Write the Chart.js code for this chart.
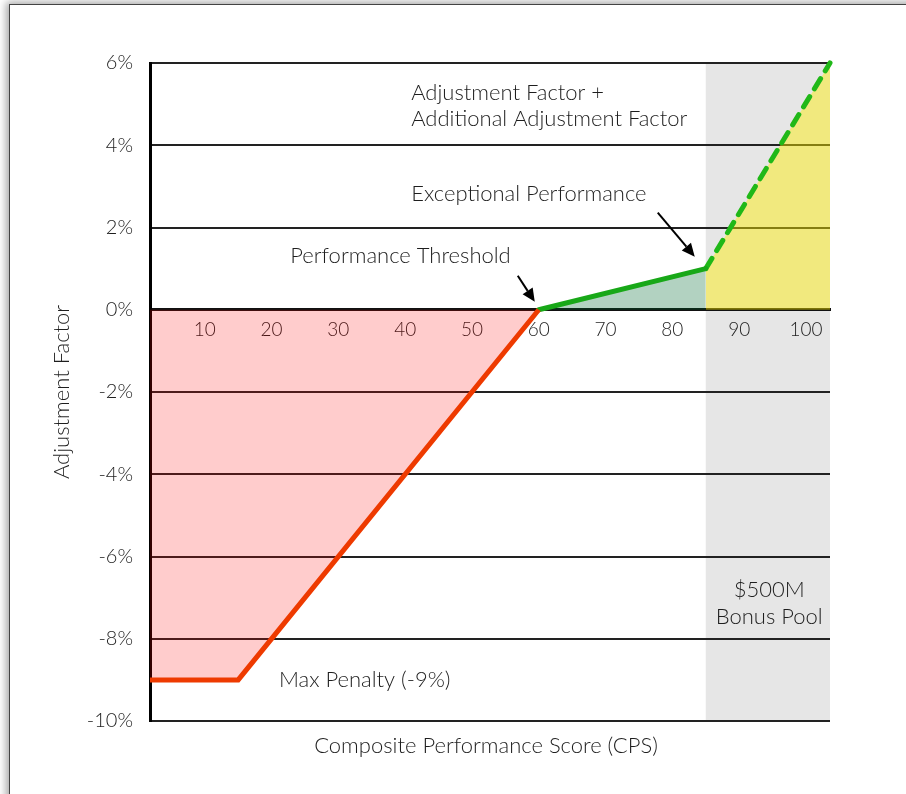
<!DOCTYPE html>
<html>
<head>
<meta charset="utf-8">
<script src="https://cdn.jsdelivr.net/npm/chart.js@4/dist/chart.umd.min.js"></script>
<style>
  html, body { margin: 0; padding: 0; background: #fff; }
  body { width: 906px; height: 794px; position: relative; overflow: hidden; }
  .card {
    position: absolute; left: 9px; top: 4px; width: 1000px; height: 1000px;
    background: #fff; border-left: 1px solid #444; border-top: 1px solid #444;
    box-shadow: -3px -2px 8px rgba(0,0,0,0.35);
  }
  #wrap { position: absolute; left: 0; top: 0; width: 906px; height: 794px; }
</style>
</head>
<body>
<div class="card"></div>
<div id="wrap"><canvas id="chart" width="906" height="794"></canvas></div>
<script>
// Composite Performance Score vs. adjustment factor
const cpsRange = [1.8, 103.6];
const xTickValues = [10, 20, 30, 40, 50, 60, 70, 80, 90, 100];
const yTickValues = [-10, -8, -6, -4, -2, 0, 2, 4, 6];

// Penalty segment: max penalty then linear ramp up to the threshold
const penaltyCps = [1.8, 15, 60];
const penaltyFactor = [-9, -9, 0];

// Base adjustment between threshold and exceptional performance
const baseCps = [60, 85];
const baseFactor = [0, 1];

// Additional adjustment in the bonus pool zone
const bonusCps = [85, 103.6];
const bonusFactor = [1, 6];

const bonusPoolStart = 85;

const FONT = "Lato, 'Noto Sans', sans-serif";
const TEXT = '#1e1e1e';

const toPoints = (xs, ys) => xs.map((x, i) => ({ x, y: ys[i] }));

// Text labels placed in data coordinates
const notes = [
  { text: 'Adjustment Factor +', x: 40.9, y: 5.27, align: 'left' },
  { text: 'Additional Adjustment Factor', x: 40.9, y: 4.64, align: 'left' },
  { text: 'Exceptional Performance', x: 40.9, y: 2.81, align: 'left' },
  { text: 'Performance Threshold', x: 22.8, y: 1.31, align: 'left' },
  { text: 'Max Penalty (-9%)', x: 21.1, y: -9.0, align: 'left' },
  { text: '$500M', x: 94.5, y: -6.81, align: 'center' },
  { text: 'Bonus Pool', x: 94.5, y: -7.47, align: 'center' }
];

// Arrows pointing at a data point; tail and tip offsets in pixels
const arrows = [
  { x: 60, y: 0, tip: [-4, -8], tail: [-21, -34] },
  { x: 85, y: 1, tip: [-11, -12], tail: [-48, -56] }
];

const decorPlugin = {
  id: 'decor',
  beforeDraw(chart) {
    const { ctx, chartArea: a, scales: { x } } = chart;
    const left = x.getPixelForValue(bonusPoolStart);
    ctx.save();
    ctx.fillStyle = '#e6e6e6';
    ctx.fillRect(left, a.top, a.right - left, a.bottom - a.top);
    ctx.restore();
  },
  afterDatasetsDraw(chart) {
    const { ctx, chartArea: a, scales: { x, y } } = chart;
    ctx.save();
    ctx.fillStyle = TEXT;
    ctx.font = `300 22px ${FONT}`;
    ctx.textBaseline = 'middle';
    notes.forEach(n => {
      ctx.textAlign = n.align;
      ctx.fillText(n.text, x.getPixelForValue(n.x), y.getPixelForValue(n.y));
    });

    // Axis titles
    ctx.textAlign = 'center';
    ctx.fillText('Composite Performance Score (CPS)', 486, a.bottom + 25);
    ctx.save();
    ctx.translate(62, (a.top + a.bottom) / 2);
    ctx.rotate(-Math.PI / 2);
    ctx.fillText('Adjustment Factor', 0, 0);
    ctx.restore();

    // Arrows
    ctx.strokeStyle = '#000';
    ctx.fillStyle = '#000';
    ctx.lineWidth = 2;
    arrows.forEach(ar => {
      const px = x.getPixelForValue(ar.x), py = y.getPixelForValue(ar.y);
      const tx = px + ar.tip[0], ty = py + ar.tip[1];
      const sx = px + ar.tail[0], sy = py + ar.tail[1];
      const ang = Math.atan2(ty - sy, tx - sx);
      const len = 13, half = 6;
      const bx = tx - len * Math.cos(ang), by = ty - len * Math.sin(ang);
      ctx.beginPath();
      ctx.moveTo(sx, sy);
      ctx.lineTo(bx, by);
      ctx.stroke();
      ctx.beginPath();
      ctx.moveTo(tx, ty);
      ctx.lineTo(bx + half * Math.sin(ang), by - half * Math.cos(ang));
      ctx.lineTo(bx - half * Math.sin(ang), by + half * Math.cos(ang));
      ctx.closePath();
      ctx.fill();
    });
    ctx.restore();
  }
};

new Chart(document.getElementById('chart'), {
  type: 'scatter',
  data: {
    datasets: [
      {
        data: toPoints(penaltyCps, penaltyFactor),
        showLine: true,
        borderColor: '#ee3a00',
        borderWidth: 5,
        backgroundColor: 'rgba(255,0,0,0.2)',
        fill: { value: 0 },
        pointRadius: 0,
        borderJoinStyle: 'miter',
        borderCapStyle: 'butt'
      },
      {
        data: toPoints(baseCps, baseFactor),
        showLine: true,
        borderColor: '#18a818',
        borderWidth: 5,
        backgroundColor: 'rgba(0,105,50,0.3)',
        fill: { value: 0 },
        pointRadius: 0,
        borderCapStyle: 'round'
      },
      {
        data: toPoints(bonusCps, bonusFactor),
        showLine: true,
        borderColor: '#20b818',
        borderWidth: 5,
        borderDash: [12, 9],
        borderCapStyle: 'round',
        backgroundColor: 'rgba(255,238,0,0.45)',
        fill: { value: 0 },
        pointRadius: 0,
        clip: 8
      }
    ]
  },
  options: {
    responsive: false,
    animation: false,
    layout: { padding: { left: 10, top: 63, right: 76, bottom: 73 } },
    plugins: { legend: { display: false }, tooltip: { enabled: false } },
    scales: {
      x: {
        type: 'linear',
        position: { y: 0 },
        min: cpsRange[0],
        max: cpsRange[1],
        afterBuildTicks: s => { s.ticks = xTickValues.map(v => ({ value: v })); },
        grid: { display: false, drawTicks: false },
        border: { display: true, color: '#111', width: 3 },
        ticks: { padding: 9, color: TEXT, font: { family: FONT, size: 19, weight: '300' } }
      },
      y: {
        type: 'linear',
        min: yTickValues[0],
        max: yTickValues[yTickValues.length - 1],
        afterBuildTicks: s => { s.ticks = yTickValues.map(v => ({ value: v })); },
        afterFit: s => { s.width = 140; },
        grid: { color: '#222', lineWidth: 2, drawTicks: false },
        border: { display: true, color: '#000', width: 3 },
        ticks: {
          padding: 17,
          color: TEXT,
          font: { family: FONT, size: 20, weight: '300' },
          callback: v => v + '%'
        }
      }
    }
  },
  plugins: [decorPlugin]
});
</script>
</body>
</html>
